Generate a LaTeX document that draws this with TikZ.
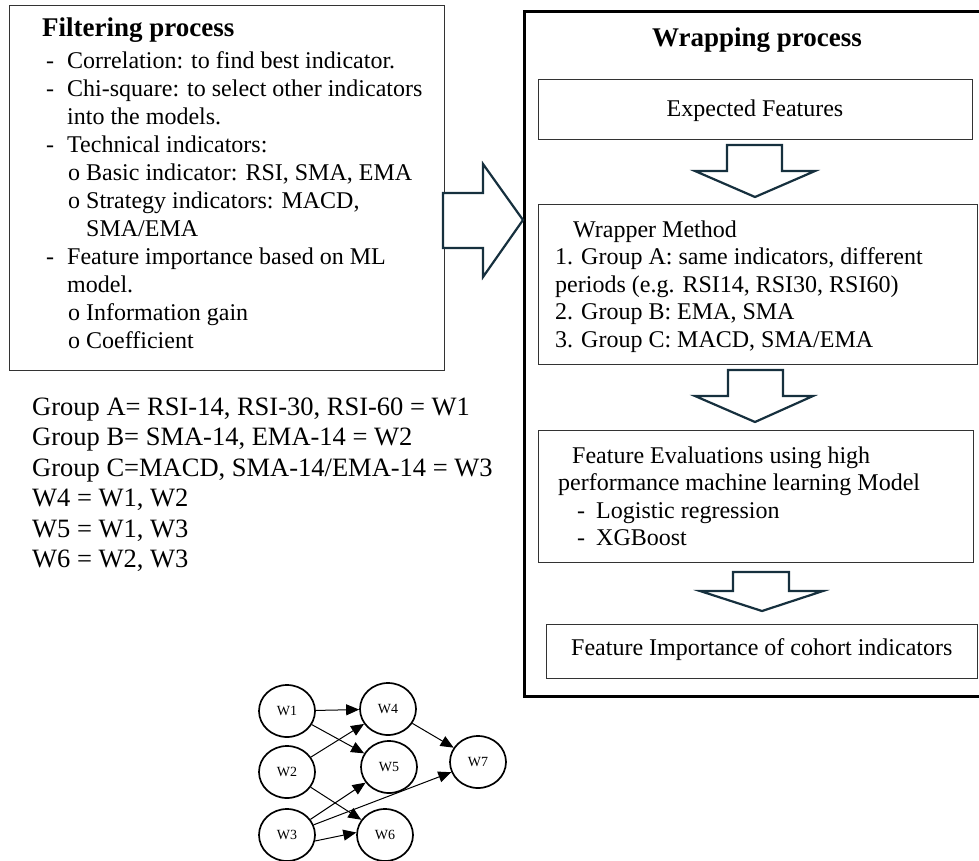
\documentclass[tikz,border=0pt]{standalone}
\usepackage{fontspec}
\setmainfont{Liberation Serif}
\usetikzlibrary{arrows.meta,shapes.geometric}
\definecolor{arrowblue}{RGB}{22,48,62}
\begin{document}
\begin{tikzpicture}[x=1pt,y=-1pt,
  box/.style={draw=black!80,line width=1.3pt,inner sep=0pt,anchor=north west},
  txt/.style={inner sep=0pt,anchor=base west,font=\fontsize{24}{28}\selectfont},
  ctxt/.style={inner sep=0pt,anchor=base,font=\fontsize{24}{28}\selectfont},
  ttl/.style={inner sep=0pt,font=\fontsize{27}{32}\selectfont\bfseries},
  grp/.style={inner sep=0pt,anchor=base west,font=\fontsize{26.5}{30}\selectfont},
  fat/.style={draw=arrowblue,fill=white,line width=2.2pt,line join=miter},
  wn/.style={ellipse,draw,line width=1.7pt,minimum width=56pt,minimum height=52pt,inner sep=0pt,font=\fontsize{14}{16}\selectfont},
  edge/.style={line width=1pt,-{Triangle[length=13pt,width=11pt]}}]
\useasboundingbox (0,0) rectangle (979,861);

% ---------- Filtering box ----------
\node[box,minimum width=435pt,minimum height=364.5pt] (filter) at (8.5,5) {};
\node[ttl,anchor=base west] (ftitle) at (42,37) {Filtering process};
\node[txt] (fd1) at (46,69) {-};
\node[txt] (f1) at (67,69) {Correlation: to find best indicator.};
\node[txt] (fd2) at (46,96.9) {-};
\node[txt] (f2) at (67,96.9) {Chi-square: to select other indicators};
\node[txt] (f3) at (67,124.8) {into the models.};
\node[txt] (fd4) at (46,152.7) {-};
\node[txt] (f4) at (67,152.7) {Technical indicators:};
\node[txt] (fb5) at (68,180.6) {o};
\node[txt] (f5) at (86,180.6) {Basic indicator: RSI, SMA, EMA};
\node[txt] (fb6) at (68,208.5) {o};
\node[txt] (f6) at (86,208.5) {Strategy indicators: MACD,};
\node[txt] (f7) at (86,236.4) {SMA/EMA};
\node[txt] (fd8) at (46,264.3) {-};
\node[txt] (f8) at (67,264.3) {Feature importance based on ML};
\node[txt] (f9) at (67,292.2) {model.};
\node[txt] (fb10) at (68,320.1) {o};
\node[txt] (f10) at (86,320.1) {Information gain};
\node[txt] (fb11) at (68,348) {o};
\node[txt] (f11) at (86,348) {Coefficient};

% ---------- Wrapping box ----------
\node[draw,line width=2.7pt,inner sep=0pt,anchor=north west,minimum width=458pt,minimum height=685pt] (wrap) at (523,10) {};
\node[ttl,anchor=base] (wtitle) at (757,47) {Wrapping process};

\node[box,minimum width=434pt,minimum height=60pt] (expect) at (538,79) {};
\node[ctxt] (expectt) at (755,117) {Expected Features};

\node[box,minimum width=439pt,minimum height=160pt] (method) at (538,204) {};
\node[txt] (m0) at (573,237) {Wrapper Method};
\node[txt] (m1) at (555,264.5) {1. Group A: same indicators, different};
\node[txt] (m2) at (555,292) {periods (e.g. RSI14, RSI30, RSI60)};
\node[txt] (m3) at (555,319.5) {2. Group B: EMA, SMA};
\node[txt] (m4) at (555,347) {3. Group C: MACD, SMA/EMA};

\node[box,minimum width=435pt,minimum height=132pt] (evalb) at (538,430) {};
\node[txt] (e0) at (572,463) {Feature Evaluations using high};
\node[txt] (e1) at (558,490) {performance machine learning Model};
\node[txt] (ed2) at (577,518) {-};
\node[txt] (e2) at (596,518) {Logistic regression};
\node[txt] (ed3) at (577,545) {-};
\node[txt] (e3) at (596,545) {XGBoost};

\node[box,minimum width=431pt,minimum height=54pt] (importb) at (546,624) {};
\node[txt] (i0) at (571,655) {Feature Importance of cohort indicators};

% ---------- block arrows ----------
\draw[fat] (443,193) -- (483,193) -- (483,164) -- (523,220) -- (483,277) -- (483,248) -- (443,248) -- cycle;
\draw[fat] (727,145) -- (782,145) -- (782,171) -- (815,171) -- (755,197) -- (695,171) -- (727,171) -- cycle;
\draw[fat] (728,370) -- (783,370) -- (783,396) -- (813,396) -- (755,422) -- (695,396) -- (728,396) -- cycle;
\draw[fat] (733,572) -- (789,572) -- (789,591) -- (823,591) -- (762,611) -- (700,591) -- (733,591) -- cycle;

% ---------- group text ----------
\node[grp] (g1) at (32,415) {Group A= RSI-14, RSI-30, RSI-60 = W1};
\node[grp] (g2) at (32,445.5) {Group B= SMA-14, EMA-14 = W2};
\node[grp] (g3) at (32,476) {Group C=MACD, SMA-14/EMA-14 = W3};
\node[grp] (g4) at (32,506) {W4 = W1, W2};
\node[grp] (g5) at (32,537) {W5 = W1, W3};
\node[grp] (g6) at (32,567) {W6 = W2, W3};

% ---------- graph ----------
\node[wn] (W1) at (287,711) {W1};
\node[wn] (W2) at (287,772) {W2};
\node[wn] (W3) at (287,835) {W3};
\node[wn] (W4) at (388,709) {W4};
\node[wn] (W5) at (389,767) {W5};
\node[wn] (W6) at (385,835) {W6};
\node[wn] (W7) at (478,762) {W7};

\draw[edge] (W1) -- (W4);
\draw[edge] (W1) -- (W5);
\draw[edge] (W2) -- (W4);
\draw[edge] (W2) -- (W6);
\draw[edge] (W3) -- (W5);
\draw[edge] (W3) -- (W7);
\draw[edge] (W3.-12) -- (W6.175);
\draw[edge] (W4) -- (W7);
\end{tikzpicture}
\end{document}
